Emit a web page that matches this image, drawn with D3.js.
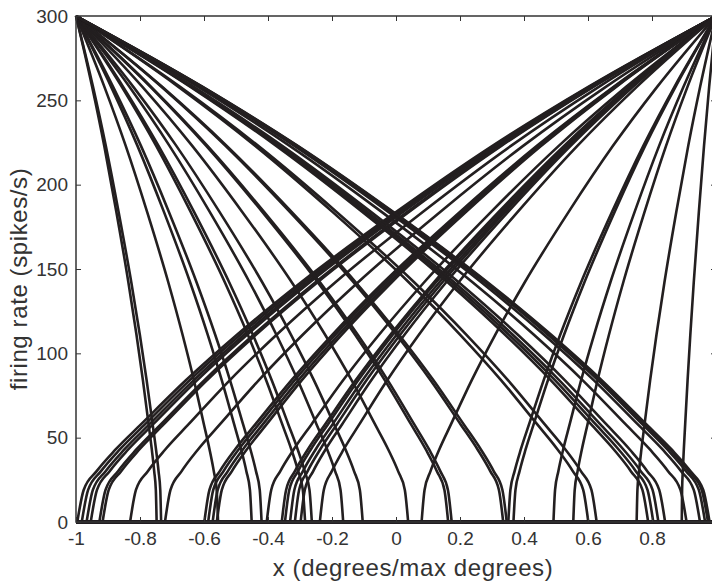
<!DOCTYPE html>
<html>
<head>
<meta charset="utf-8">
<script src="https://cdn.jsdelivr.net/npm/d3@7"></script>
<style>
  body { margin: 0; background: #fff; }
  text { font-family: "Liberation Sans", Arial, sans-serif; fill: #333; }
</style>
</head>
<body>
<div id="chart"></div>
<script>
// axis ticks
var xTicks = [-1, -0.8, -0.6, -0.4, -0.2, 0, 0.2, 0.4, 0.6, 0.8, 1];
var yTicks = [0, 50, 100, 150, 200, 250, 300];

var risingIntercepts = [-0.996, -0.982, -0.967, -0.954, -0.927, -0.917, -0.831, -0.722,
  -0.599, -0.587, -0.573, -0.560, -0.404, -0.357, -0.347, -0.331, -0.316, -0.298,
  -0.238, 0.080, 0.351, 0.367, 0.492, 0.554, 0.752, 0.893];
var fallingIntercepts = [-0.748, -0.734, -0.556, -0.451, -0.420, -0.284, -0.263, -0.165,
  -0.104, 0.038, 0.163, 0.174, 0.335, 0.346, 0.601, 0.627, 0.788, 0.804, 0.820, 0.841,
  0.908, 0.950, 0.966, 0.975, 0.980];

// shape of one curve, read from the widest one: fraction of the way from
// intercept to the edge, and firing rate there
var profileU = [0, 0.01, 0.03, 0.06, 0.1, 0.17, 0.25, 0.35, 0.5, 0.65, 0.8, 1];
var profileRate = [0, 19, 30, 43, 58, 84, 111, 142, 184, 223, 258, 300];

var margin = {top: 16, right: 0, bottom: 64, left: 76},
    width = 640,
    height = 506;

var svg = d3.select("#chart")
  .append("svg")
    .attr("width", 712)
    .attr("height", 586)
  .append("g")
    .attr("transform", "translate(" + margin.left + "," + margin.top + ")");

var x = d3.scaleLinear().domain([-1, 1]).range([0, width]);
var y = d3.scaleLinear().domain([0, 300]).range([height, 0]);

var ink = "#231f20";

var line = d3.line()
  .x(function(d) { return x(d[0]); })
  .y(function(d) { return y(d[1]); })
  .curve(d3.curveMonotoneX);
var flat = d3.line()
  .x(function(d) { return x(d[0]); })
  .y(function(d) { return y(d[1]); });

function curvePoints(c, edge) {
  var pts = profileU.map(function(u, i) { return [c + u * (edge - c), profileRate[i]]; });
  pts.sort(function(a, b) { return a[0] - b[0]; });
  return pts;
}

var curves = [];
risingIntercepts.forEach(function(c) { curves.push({c: c, edge: 1}); });
fallingIntercepts.forEach(function(c) { curves.push({c: c, edge: -1}); });

var g = svg.append("g");
curves.forEach(function(d) {
  // zero part
  g.append("path")
    .attr("d", flat([[d.c, 0], [-d.edge, 0]]))
    .attr("fill", "none").attr("stroke", ink).attr("stroke-width", 2.6);
  g.append("path")
    .attr("d", line(curvePoints(d.c, d.edge)))
    .attr("fill", "none").attr("stroke", ink).attr("stroke-width", 2.6)
    .attr("stroke-linejoin", "round");
});

// axes, MATLAB style box with inward ticks
function styleAxis(sel) {
  sel.select(".domain").remove();
  sel.selectAll(".tick line").attr("stroke", "#333").attr("stroke-width", 1);
  sel.selectAll(".tick text").style("font-size", "19px").attr("fill", "#333");
}

svg.append("g")
  .attr("transform", "translate(0," + height + ")")
  .call(d3.axisBottom(x).tickValues(xTicks).tickSize(-5).tickPadding(10)
    .tickFormat(function(d) { return String(d); }))
  .call(styleAxis);

svg.append("g")
  .call(d3.axisTop(x).tickValues(xTicks).tickSize(-5).tickFormat(""))
  .call(styleAxis);

svg.append("g")
  .call(d3.axisLeft(y).tickValues(yTicks).tickSize(-5).tickPadding(8))
  .call(styleAxis);

svg.append("g")
  .attr("transform", "translate(" + width + ",0)")
  .call(d3.axisRight(y).tickValues(yTicks).tickSize(-5).tickFormat(""))
  .call(styleAxis);

svg.append("rect")
  .attr("width", width).attr("height", height)
  .attr("fill", "none").attr("stroke", "#333").attr("stroke-width", 1.5);

// labels
svg.append("text")
  .attr("text-anchor", "middle")
  .attr("x", x(0) + 17)
  .attr("y", height + 54)
  .style("font-size", "24px")
  .style("letter-spacing", "0.6px")
  .text("x (degrees/max degrees)");

svg.append("text")
  .attr("text-anchor", "middle")
  .attr("transform", "translate(" + (27 - margin.left) + "," + (height / 2 + 10) + ") rotate(-90)")
  .style("font-size", "24px")
  .style("letter-spacing", "0.6px")
  .text("firing rate (spikes/s)");
</script>
</body>
</html>
